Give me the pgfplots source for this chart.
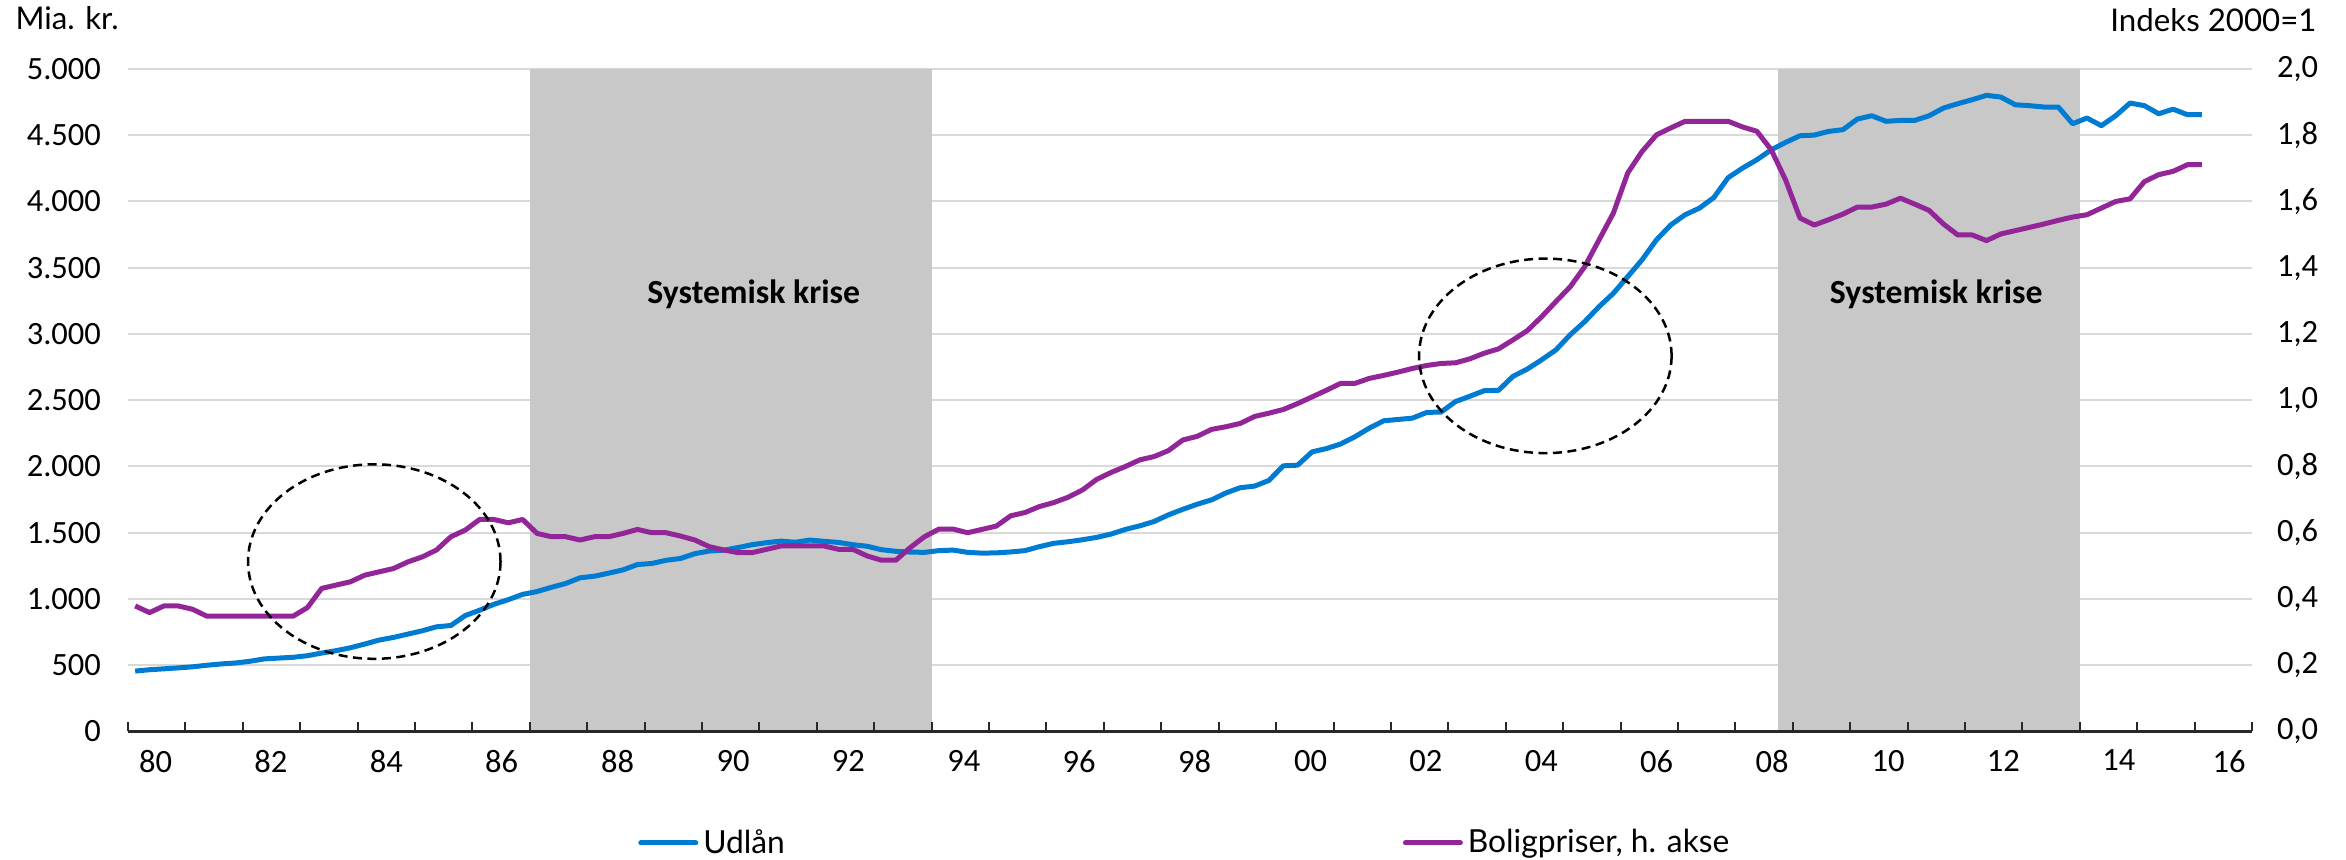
\documentclass[border=0pt]{standalone}
\usepackage{fontspec}
\setmainfont{Carlito}
\newfontfamily\latofont{Lato}
\usepackage{pgfplots}
\usepackage{pgfplotstable}
\pgfplotsset{compat=1.18}

\definecolor{udlan}{RGB}{0,123,210}
\definecolor{bolig}{RGB}{146,38,152}
\definecolor{krise}{RGB}{200,200,200}
\definecolor{gitter}{RGB}{217,217,217}
\definecolor{akse}{RGB}{40,40,40}

% Udlaan, mia. kr., kvartalsvis
\pgfplotstableread{
x y
1980.125 456
1980.375 466
1980.625 473
1980.875 480
1981.125 488
1981.375 500
1981.625 510
1981.875 517
1982.125 530
1982.375 548
1982.625 554
1982.875 560
1983.125 572
1983.375 592
1983.625 610
1983.875 632
1984.125 660
1984.375 690
1984.625 710
1984.875 735
1985.125 760
1985.375 790
1985.625 800
1985.875 875
1986.125 915
1986.375 960
1986.625 995
1986.875 1035
1987.125 1056
1987.375 1088
1987.625 1117
1987.875 1160
1988.125 1172
1988.375 1195
1988.625 1220
1988.875 1260
1989.125 1268
1989.375 1292
1989.625 1306
1989.875 1342
1990.125 1362
1990.375 1368
1990.625 1388
1990.875 1410
1991.125 1425
1991.375 1437
1991.625 1428
1991.875 1445
1992.125 1435
1992.375 1427
1992.625 1410
1992.875 1398
1993.125 1372
1993.375 1360
1993.625 1354
1993.875 1352
1994.125 1365
1994.375 1369
1994.625 1352
1994.875 1346
1995.125 1348
1995.375 1355
1995.625 1365
1995.875 1395
1996.125 1420
1996.375 1432
1996.625 1447
1996.875 1465
1997.125 1490
1997.375 1525
1997.625 1552
1997.875 1585
1998.125 1635
1998.375 1677
1998.625 1715
1998.875 1748
1999.125 1800
1999.375 1840
1999.625 1852
1999.875 1895
2000.125 2005
2000.375 2010
2000.625 2110
2000.875 2135
2001.125 2170
2001.375 2225
2001.625 2290
2001.875 2345
2002.125 2355
2002.375 2365
2002.625 2408
2002.875 2411
2003.125 2490
2003.375 2530
2003.625 2572
2003.875 2575
2004.125 2680
2004.375 2735
2004.625 2805
2004.875 2880
2005.125 2995
2005.375 3093
2005.625 3206
2005.875 3307
2006.125 3433
2006.375 3560
2006.625 3710
2006.875 3823
2007.125 3900
2007.375 3950
2007.625 4030
2007.875 4180
2008.125 4252
2008.375 4315
2008.625 4390
2008.875 4446
2009.125 4496
2009.375 4501
2009.625 4529
2009.875 4542
2010.125 4622
2010.375 4647
2010.625 4605
2010.875 4612
2011.125 4612
2011.375 4647
2011.625 4705
2011.875 4738
2012.125 4768
2012.375 4801
2012.625 4788
2012.875 4730
2013.125 4723
2013.375 4713
2013.625 4713
2013.875 4587
2014.125 4630
2014.375 4572
2014.625 4647
2014.875 4743
2015.125 4723
2015.375 4662
2015.625 4697
2015.875 4655
2016.125 4655
}\udlantable

% Boligpriser, indeks 2000=1, kvartalsvis
\pgfplotstableread{
x y
1980.125 0.379
1980.375 0.359
1980.625 0.379
1980.875 0.379
1981.125 0.369
1981.375 0.348
1981.625 0.348
1981.875 0.348
1982.125 0.348
1982.375 0.348
1982.625 0.348
1982.875 0.348
1983.125 0.374
1983.375 0.432
1983.625 0.442
1983.875 0.452
1984.125 0.472
1984.375 0.482
1984.625 0.492
1984.875 0.512
1985.125 0.527
1985.375 0.548
1985.625 0.588
1985.875 0.608
1986.125 0.640
1986.375 0.640
1986.625 0.630
1986.875 0.640
1987.125 0.598
1987.375 0.588
1987.625 0.588
1987.875 0.578
1988.125 0.588
1988.375 0.588
1988.625 0.598
1988.875 0.610
1989.125 0.600
1989.375 0.600
1989.625 0.590
1989.875 0.578
1990.125 0.558
1990.375 0.548
1990.625 0.540
1990.875 0.540
1991.125 0.550
1991.375 0.560
1991.625 0.560
1991.875 0.560
1992.125 0.560
1992.375 0.550
1992.625 0.550
1992.875 0.530
1993.125 0.517
1993.375 0.517
1993.625 0.555
1993.875 0.588
1994.125 0.611
1994.375 0.611
1994.625 0.600
1994.875 0.610
1995.125 0.620
1995.375 0.651
1995.625 0.661
1995.875 0.679
1996.125 0.691
1996.375 0.707
1996.625 0.729
1996.875 0.761
1997.125 0.782
1997.375 0.800
1997.625 0.820
1997.875 0.830
1998.125 0.848
1998.375 0.880
1998.625 0.891
1998.875 0.912
1999.125 0.920
1999.375 0.930
1999.625 0.951
1999.875 0.961
2000.125 0.972
2000.375 0.990
2000.625 1.010
2000.875 1.030
2001.125 1.051
2001.375 1.051
2001.625 1.066
2001.875 1.075
2002.125 1.085
2002.375 1.096
2002.625 1.105
2002.875 1.111
2003.125 1.113
2003.375 1.125
2003.625 1.142
2003.875 1.155
2004.125 1.182
2004.375 1.210
2004.625 1.252
2004.875 1.298
2005.125 1.343
2005.375 1.403
2005.625 1.484
2005.875 1.565
2006.125 1.686
2006.375 1.751
2006.625 1.801
2006.875 1.822
2007.125 1.842
2007.375 1.842
2007.625 1.842
2007.875 1.842
2008.125 1.825
2008.375 1.812
2008.625 1.756
2008.875 1.665
2009.125 1.550
2009.375 1.529
2009.625 1.545
2009.875 1.562
2010.125 1.583
2010.375 1.583
2010.625 1.592
2010.875 1.610
2011.125 1.592
2011.375 1.573
2011.625 1.532
2011.875 1.499
2012.125 1.499
2012.375 1.482
2012.625 1.502
2012.875 1.512
2013.125 1.522
2013.375 1.532
2013.625 1.543
2013.875 1.553
2014.125 1.560
2014.375 1.580
2014.625 1.600
2014.875 1.608
2015.125 1.660
2015.375 1.681
2015.625 1.691
2015.875 1.711
2016.125 1.711
}\boligtable

\pgfplotsset{
  faelles/.style={
    scale only axis,
    width=849.6pt, height=265pt,
    xmin=1980, xmax=2017,
    clip=false,
    tick label style={font=\fontsize{13}{15}\selectfont},
    /pgf/number format/assume math mode=true,
    legend image code/.code={\draw[##1, line cap=round] (0pt,0pt) -- (22pt,0pt);},
  },
}

\begin{document}
\begin{tikzpicture}
\useasboundingbox (-51.2pt,-51.4pt) rectangle (887.2pt,292.6pt);

% venstre akse: gitter, kriseperioder og udlaan
\begin{axis}[
  faelles,
  ymin=0, ymax=5000,
  axis x line=none,
  axis y line*=left,
  y axis line style={draw=none},
  ytick={0,500,...,5000},
  ymajorgrids,
  grid style={gitter, line width=0.8pt},
  major tick length=0pt,
  scaled y ticks=false,
  /pgf/number format/1000 sep={.},
  yticklabel style={xshift=-7.3pt},
  legend style={at={(rel axis cs:0.240,-0.1683)}, anchor=west,
    draw=none, fill=none, inner sep=0pt,
    font=\latofont\fontsize{12.7}{15}\selectfont},
]
\addplot[fill=krise, draw=none, forget plot] coordinates {(1987,5000) (1994,5000)} \closedcycle;
\addplot[fill=krise, draw=none, forget plot] coordinates {(2008.75,5000) (2014,5000)} \closedcycle;
\addplot[udlan, line width=2pt, line join=round] table {\udlantable};
\addlegendentry{Udlån}
\node[anchor=base, font=\bfseries\fontsize{13.5}{16}\selectfont] at (axis cs:1990.9,3232) {Systemisk krise};
\node[anchor=base, font=\bfseries\fontsize{13.5}{16}\selectfont] at (axis cs:2011.5,3232) {Systemisk krise};
\node[anchor=base west, inner sep=0pt, font=\latofont\fontsize{12.5}{15}\selectfont,
      xshift=-45.2pt, yshift=15.6pt] at (rel axis cs:0,1) {Mia. kr.};
\end{axis}

% hoejre akse: tidsakse, boligpriser og markeringer
\begin{axis}[
  faelles,
  ymin=0, ymax=2,
  axis x line*=bottom,
  axis y line*=right,
  x axis line style={-, akse, line width=1pt},
  y axis line style={draw=none},
  tick align=inside,
  major tick length=0pt,
  tick style={akse, line width=0.8pt},
  xtick={1980.48,1982.49,1984.50,1986.51,1988.53,1990.54,1992.55,1994.56,1996.57,1998.58,2000.60,2002.61,2004.62,2006.63,2008.64,2010.66,2012.67,2014.68,2016.6},
  xticklabels={80,82,84,86,88,90,92,94,96,98,00,02,04,06,08,10,12,14,\raisebox{2pt}{16}},
  xticklabel style={yshift=-3.9pt},
  extra x ticks={1980,1981,...,2017},
  extra x tick labels={},
  extra x tick style={major tick length=3.6pt},
  ytick={0,0.2,0.4,0.6,0.8,1,1.2,1.4,1.6,1.8,2},
  yticklabel style={xshift=6.5pt, /pgf/number format/.cd, fixed, fixed zerofill, precision=1, use comma},
  legend style={at={(rel axis cs:0.600,-0.1683)}, anchor=west,
    draw=none, fill=none, inner sep=0pt,
    font=\latofont\fontsize{12.7}{15}\selectfont},
]
\addplot[bolig, line width=2pt, line join=round] table {\boligtable};
\addlegendentry{Boligpriser, h. akse}
\draw[black, line width=1pt, dash pattern=on 3.6pt off 2.2pt]
  (axis cs:1984.29,0.513) ellipse [x radius=50.5pt, y radius=38.9pt];
\draw[black, line width=1pt, dash pattern=on 3.6pt off 2.2pt]
  (axis cs:2004.69,1.134) ellipse [x radius=50.5pt, y radius=38.9pt];
\node[anchor=base east, inner sep=0pt, font=\latofont\fontsize{12.5}{15}\selectfont,
      xshift=26pt, yshift=14.8pt] at (rel axis cs:1,1) {Indeks 2000=1};
\end{axis}
\end{tikzpicture}
\end{document}
